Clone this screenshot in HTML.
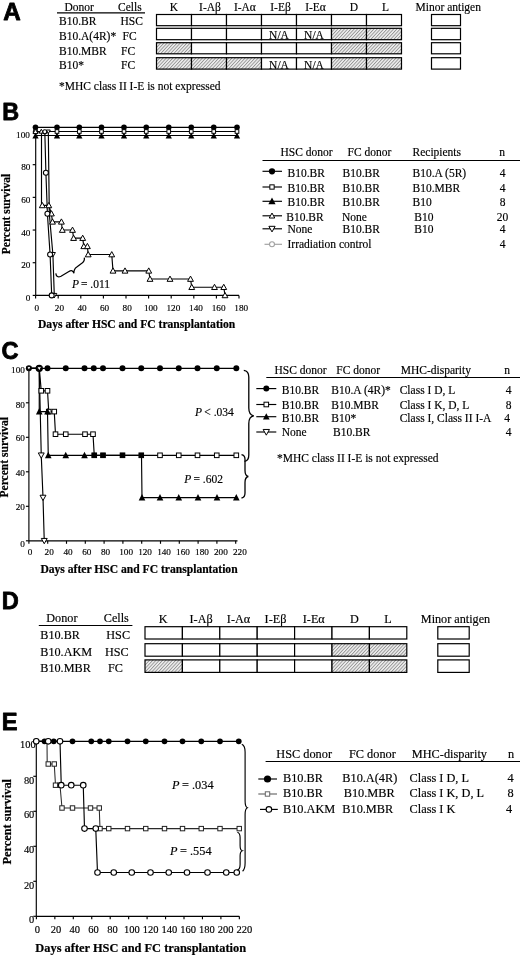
<!DOCTYPE html>
<html lang="en"><head><meta charset="utf-8"><title>Figure</title>
<style>html,body{margin:0;padding:0;background:#fff}svg{display:block}text{font-family:'Liberation Serif', 'Times New Roman', serif;fill:#000;white-space:pre}text{stroke:#000;stroke-width:.16px}text.b{stroke-width:.2px}text.s{font-family:'Liberation Sans', Arial, sans-serif;stroke:#000;stroke-width:.8px;stroke-linejoin:round}</style>
</head><body>
<svg width="520" height="957" viewBox="0 0 520 957">
<defs><pattern id="h" width="2.4" height="2.4" patternUnits="userSpaceOnUse" patternTransform="rotate(43)"><rect width="2.4" height="2.4" fill="#efefef"/><rect width="0.9" height="2.4" fill="#939393"/></pattern></defs>
<rect width="520" height="957" fill="#fff"/>
<text x="3.2" y="20.2" font-size="24.2" font-weight="bold" class="s">A</text>
<text x="64.5" y="10.5" font-size="11.5">Donor</text>
<text x="118" y="10.5" font-size="11.5">Cells</text>
<line x1="57" y1="12.9" x2="145" y2="12.9" stroke="#000" stroke-width="1.3"/>
<text x="59" y="24.6" font-size="11.5">B10.BR</text>
<text x="120.5" y="24.6" font-size="11.5">HSC</text>
<text x="59" y="39.6" font-size="11.5">B10.A(4R)*</text>
<text x="122.5" y="39.6" font-size="11.5">FC</text>
<text x="59" y="54.6" font-size="11.5">B10.MBR</text>
<text x="121" y="54.6" font-size="11.5">FC</text>
<text x="59" y="69.2" font-size="11.5">B10*</text>
<text x="121" y="69.2" font-size="11.5">FC</text>
<text x="174.0" y="10.6" font-size="11.5" text-anchor="middle">K</text>
<text x="210.0" y="10.6" font-size="11.5" text-anchor="middle">I-Aβ</text>
<text x="244.9" y="10.6" font-size="11.5" text-anchor="middle">I-Aα</text>
<text x="280.5" y="10.6" font-size="11.5" text-anchor="middle">I-Eβ</text>
<text x="315.5" y="10.6" font-size="11.5" text-anchor="middle">I-Eα</text>
<text x="354.0" y="10.6" font-size="11.5" text-anchor="middle">D</text>
<text x="385.5" y="10.6" font-size="11.5" text-anchor="middle">L</text>
<text x="415.5" y="10.6" font-size="11.5">Minor antigen</text>
<rect x="156.5" y="14.5" width="35" height="11.2" fill="#fff" stroke="#000" stroke-width="1.2"/>
<rect x="191.5" y="14.5" width="35" height="11.2" fill="#fff" stroke="#000" stroke-width="1.2"/>
<rect x="226.5" y="14.5" width="35" height="11.2" fill="#fff" stroke="#000" stroke-width="1.2"/>
<rect x="261.5" y="14.5" width="35" height="11.2" fill="#fff" stroke="#000" stroke-width="1.2"/>
<rect x="296.5" y="14.5" width="35" height="11.2" fill="#fff" stroke="#000" stroke-width="1.2"/>
<rect x="331.5" y="14.5" width="35" height="11.2" fill="#fff" stroke="#000" stroke-width="1.2"/>
<rect x="366.5" y="14.5" width="35" height="11.2" fill="#fff" stroke="#000" stroke-width="1.2"/>
<rect x="431.5" y="14.5" width="29" height="11.2" fill="#fff" stroke="#000" stroke-width="1.2"/>
<rect x="156.5" y="28.3" width="35" height="11.400000000000002" fill="#fff" stroke="#000" stroke-width="1.2"/>
<rect x="191.5" y="28.3" width="35" height="11.400000000000002" fill="#fff" stroke="#000" stroke-width="1.2"/>
<rect x="226.5" y="28.3" width="35" height="11.400000000000002" fill="#fff" stroke="#000" stroke-width="1.2"/>
<rect x="261.5" y="28.3" width="35" height="11.400000000000002" fill="#fff" stroke="#000" stroke-width="1.2"/>
<text x="279.0" y="39.1" font-size="11.5" text-anchor="middle">N/A</text>
<rect x="296.5" y="28.3" width="35" height="11.400000000000002" fill="#fff" stroke="#000" stroke-width="1.2"/>
<text x="314.0" y="39.1" font-size="11.5" text-anchor="middle">N/A</text>
<rect x="331.5" y="28.3" width="35" height="11.400000000000002" fill="url(#h)" stroke="#000" stroke-width="1.2"/>
<rect x="366.5" y="28.3" width="35" height="11.400000000000002" fill="url(#h)" stroke="#000" stroke-width="1.2"/>
<rect x="431.5" y="28.3" width="29" height="11.400000000000002" fill="#fff" stroke="#000" stroke-width="1.2"/>
<rect x="156.5" y="42.7" width="35" height="11.099999999999994" fill="url(#h)" stroke="#000" stroke-width="1.2"/>
<rect x="191.5" y="42.7" width="35" height="11.099999999999994" fill="#fff" stroke="#000" stroke-width="1.2"/>
<rect x="226.5" y="42.7" width="35" height="11.099999999999994" fill="#fff" stroke="#000" stroke-width="1.2"/>
<rect x="261.5" y="42.7" width="35" height="11.099999999999994" fill="#fff" stroke="#000" stroke-width="1.2"/>
<rect x="296.5" y="42.7" width="35" height="11.099999999999994" fill="#fff" stroke="#000" stroke-width="1.2"/>
<rect x="331.5" y="42.7" width="35" height="11.099999999999994" fill="url(#h)" stroke="#000" stroke-width="1.2"/>
<rect x="366.5" y="42.7" width="35" height="11.099999999999994" fill="url(#h)" stroke="#000" stroke-width="1.2"/>
<rect x="431.5" y="42.7" width="29" height="11.099999999999994" fill="#fff" stroke="#000" stroke-width="1.2"/>
<rect x="156.5" y="57.7" width="35" height="11.399999999999991" fill="url(#h)" stroke="#000" stroke-width="1.2"/>
<rect x="191.5" y="57.7" width="35" height="11.399999999999991" fill="url(#h)" stroke="#000" stroke-width="1.2"/>
<rect x="226.5" y="57.7" width="35" height="11.399999999999991" fill="url(#h)" stroke="#000" stroke-width="1.2"/>
<rect x="261.5" y="57.7" width="35" height="11.399999999999991" fill="#fff" stroke="#000" stroke-width="1.2"/>
<text x="279.0" y="68.5" font-size="11.5" text-anchor="middle">N/A</text>
<rect x="296.5" y="57.7" width="35" height="11.399999999999991" fill="#fff" stroke="#000" stroke-width="1.2"/>
<text x="314.0" y="68.5" font-size="11.5" text-anchor="middle">N/A</text>
<rect x="331.5" y="57.7" width="35" height="11.399999999999991" fill="url(#h)" stroke="#000" stroke-width="1.2"/>
<rect x="366.5" y="57.7" width="35" height="11.399999999999991" fill="url(#h)" stroke="#000" stroke-width="1.2"/>
<rect x="431.5" y="57.7" width="29" height="11.399999999999991" fill="#fff" stroke="#000" stroke-width="1.2"/>
<text x="59" y="89.6" font-size="11.5">*MHC class II I-E is not expressed</text>
<text x="2.2" y="120.3" font-size="23.4" font-weight="bold" class="s">B</text>
<line x1="35.7" y1="126.0" x2="35.7" y2="295.4" stroke="#000" stroke-width="1.15"/>
<line x1="35.7" y1="295.4" x2="239" y2="295.4" stroke="#000" stroke-width="1.15"/>
<line x1="32.7" y1="295.4" x2="35.7" y2="295.4" stroke="#000" stroke-width="1.15"/>
<text x="30.400000000000002" y="300.9" font-size="9.2" text-anchor="end">0</text>
<line x1="32.7" y1="262.71999999999997" x2="35.7" y2="262.71999999999997" stroke="#000" stroke-width="1.15"/>
<text x="30.400000000000002" y="268.21999999999997" font-size="9.2" text-anchor="end">20</text>
<line x1="32.7" y1="230.04" x2="35.7" y2="230.04" stroke="#000" stroke-width="1.15"/>
<text x="30.400000000000002" y="235.54" font-size="9.2" text-anchor="end">40</text>
<line x1="32.7" y1="197.36" x2="35.7" y2="197.36" stroke="#000" stroke-width="1.15"/>
<text x="30.400000000000002" y="202.86" font-size="9.2" text-anchor="end">60</text>
<line x1="32.7" y1="164.68" x2="35.7" y2="164.68" stroke="#000" stroke-width="1.15"/>
<text x="30.400000000000002" y="170.18" font-size="9.2" text-anchor="end">80</text>
<line x1="32.7" y1="132.0" x2="35.7" y2="132.0" stroke="#000" stroke-width="1.15"/>
<text x="29.900000000000002" y="138.1" font-size="9.2" text-anchor="end">100</text>
<line x1="35.6" y1="295.4" x2="35.6" y2="298.4" stroke="#000" stroke-width="1.15"/>
<text x="36.800000000000004" y="310.7" font-size="9.2" text-anchor="middle">0</text>
<line x1="58.2" y1="295.4" x2="58.2" y2="298.4" stroke="#000" stroke-width="1.15"/>
<text x="59.400000000000006" y="310.7" font-size="9.2" text-anchor="middle">20</text>
<line x1="80.80000000000001" y1="295.4" x2="80.80000000000001" y2="298.4" stroke="#000" stroke-width="1.15"/>
<text x="82.00000000000001" y="310.7" font-size="9.2" text-anchor="middle">40</text>
<line x1="103.4" y1="295.4" x2="103.4" y2="298.4" stroke="#000" stroke-width="1.15"/>
<text x="104.60000000000001" y="310.7" font-size="9.2" text-anchor="middle">60</text>
<line x1="126.0" y1="295.4" x2="126.0" y2="298.4" stroke="#000" stroke-width="1.15"/>
<text x="127.2" y="310.7" font-size="9.2" text-anchor="middle">80</text>
<line x1="148.6" y1="295.4" x2="148.6" y2="298.4" stroke="#000" stroke-width="1.15"/>
<text x="150.79999999999998" y="310.7" font-size="9.2" text-anchor="middle">100</text>
<line x1="171.20000000000002" y1="295.4" x2="171.20000000000002" y2="298.4" stroke="#000" stroke-width="1.15"/>
<text x="173.4" y="310.7" font-size="9.2" text-anchor="middle">120</text>
<line x1="193.8" y1="295.4" x2="193.8" y2="298.4" stroke="#000" stroke-width="1.15"/>
<text x="196.0" y="310.7" font-size="9.2" text-anchor="middle">140</text>
<line x1="216.4" y1="295.4" x2="216.4" y2="298.4" stroke="#000" stroke-width="1.15"/>
<text x="218.6" y="310.7" font-size="9.2" text-anchor="middle">160</text>
<line x1="239.0" y1="295.4" x2="239.0" y2="298.4" stroke="#000" stroke-width="1.15"/>
<text x="241.2" y="310.7" font-size="9.2" text-anchor="middle">180</text>
<text x="38" y="327.6" font-size="11.6" font-weight="bold" class="b">Days after HSC and FC transplantation</text>
<text x="0" y="0" font-size="11.6" text-anchor="middle" font-weight="bold" class="b" transform="translate(9.5,214) rotate(-90)">Percent survival</text>
<line x1="35.5" y1="127.4" x2="237" y2="127.4" stroke="#000" stroke-width="1.15"/>
<line x1="35.5" y1="131.5" x2="237" y2="131.5" stroke="#000" stroke-width="1.15"/>
<line x1="35.5" y1="135.5" x2="237" y2="135.5" stroke="#000" stroke-width="1.15"/>
<circle cx="35.50" cy="127.20" r="2.81" fill="#000"/>
<path d="M32.37 138.56L38.63 138.56L35.50 132.61Z" fill="#000"/>
<rect x="33.66" y="129.66" width="3.67" height="3.67" fill="#fff" stroke="#000" stroke-width="1"/>
<circle cx="57.00" cy="127.20" r="2.81" fill="#000"/>
<path d="M53.87 138.56L60.13 138.56L57.00 132.61Z" fill="#000"/>
<rect x="55.16" y="129.66" width="3.67" height="3.67" fill="#fff" stroke="#000" stroke-width="1"/>
<circle cx="79.30" cy="127.20" r="2.81" fill="#000"/>
<path d="M76.17 138.56L82.43 138.56L79.30 132.61Z" fill="#000"/>
<rect x="77.46" y="129.66" width="3.67" height="3.67" fill="#fff" stroke="#000" stroke-width="1"/>
<circle cx="101.50" cy="127.20" r="2.81" fill="#000"/>
<path d="M98.37 138.56L104.63 138.56L101.50 132.61Z" fill="#000"/>
<rect x="99.66" y="129.66" width="3.67" height="3.67" fill="#fff" stroke="#000" stroke-width="1"/>
<circle cx="124.00" cy="127.20" r="2.81" fill="#000"/>
<path d="M120.87 138.56L127.13 138.56L124.00 132.61Z" fill="#000"/>
<rect x="122.16" y="129.66" width="3.67" height="3.67" fill="#fff" stroke="#000" stroke-width="1"/>
<circle cx="146.25" cy="127.20" r="2.81" fill="#000"/>
<path d="M143.12 138.56L149.38 138.56L146.25 132.61Z" fill="#000"/>
<rect x="144.41" y="129.66" width="3.67" height="3.67" fill="#fff" stroke="#000" stroke-width="1"/>
<circle cx="168.75" cy="127.20" r="2.81" fill="#000"/>
<path d="M165.62 138.56L171.88 138.56L168.75 132.61Z" fill="#000"/>
<rect x="166.91" y="129.66" width="3.67" height="3.67" fill="#fff" stroke="#000" stroke-width="1"/>
<circle cx="191.25" cy="127.20" r="2.81" fill="#000"/>
<path d="M188.12 138.56L194.38 138.56L191.25 132.61Z" fill="#000"/>
<rect x="189.41" y="129.66" width="3.67" height="3.67" fill="#fff" stroke="#000" stroke-width="1"/>
<circle cx="213.75" cy="127.20" r="2.81" fill="#000"/>
<path d="M210.62 138.56L216.88 138.56L213.75 132.61Z" fill="#000"/>
<rect x="211.91" y="129.66" width="3.67" height="3.67" fill="#fff" stroke="#000" stroke-width="1"/>
<circle cx="237.00" cy="127.20" r="2.81" fill="#000"/>
<path d="M233.87 138.56L240.13 138.56L237.00 132.61Z" fill="#000"/>
<rect x="235.16" y="129.66" width="3.67" height="3.67" fill="#fff" stroke="#000" stroke-width="1"/>
<polyline points="35.50,131.60 41.50,131.60 41.50,205.40 48.80,205.40 51.40,213.60 52.50,221.80 61.40,221.80 62.30,230.00 72.50,230.00 73.60,238.10 82.70,238.10 83.80,246.30 87.40,246.30 88.20,254.50 111.75,254.50 113.00,270.80 125.00,270.80 148.75,270.80 150.00,279.00 170.00,279.00 190.50,279.00 191.75,287.20 214.50,287.20 223.75,287.20 225.00,295.40" fill="none" stroke="#000" stroke-width="1.15"/>
<polyline points="35.50,131.60 44.80,131.60 45.90,172.80 47.40,213.70 50.10,254.50 51.70,295.40" fill="none" stroke="#000" stroke-width="1.15"/>
<polyline points="35.50,131.60 48.30,131.60 49.30,213.70 52.90,254.50 54.30,295.40" fill="none" stroke="#000" stroke-width="1.15"/>
<path d="M46.31 130.01L50.29 130.01L48.30 133.59Z" fill="#fff" stroke="#000" stroke-width="1"/>
<path d="M46.82 211.71L51.78 211.71L49.30 216.18Z" fill="#fff" stroke="#000" stroke-width="1"/>
<path d="M50.42 252.51L55.38 252.51L52.90 256.98Z" fill="#fff" stroke="#000" stroke-width="1"/>
<path d="M51.82 293.41L56.78 293.41L54.30 297.88Z" fill="#fff" stroke="#000" stroke-width="1"/>
<path d="M33.02 133.58L37.98 133.58L35.50 129.12Z" fill="#fff" stroke="#000" stroke-width="1"/>
<path d="M39.11 133.15L43.49 133.15L41.30 129.21Z" fill="#fff" stroke="#000" stroke-width="1"/>
<path d="M39.38 207.73L45.22 207.73L42.30 202.48Z" fill="#fff" stroke="#000" stroke-width="1"/>
<path d="M45.88 207.73L51.72 207.73L48.80 202.48Z" fill="#fff" stroke="#000" stroke-width="1"/>
<path d="M48.48 215.93L54.32 215.93L51.40 210.68Z" fill="#fff" stroke="#000" stroke-width="1"/>
<path d="M49.58 224.13L55.42 224.13L52.50 218.88Z" fill="#fff" stroke="#000" stroke-width="1"/>
<path d="M58.48 224.13L64.32 224.13L61.40 218.88Z" fill="#fff" stroke="#000" stroke-width="1"/>
<path d="M59.38 232.33L65.22 232.33L62.30 227.08Z" fill="#fff" stroke="#000" stroke-width="1"/>
<path d="M69.58 232.33L75.42 232.33L72.50 227.08Z" fill="#fff" stroke="#000" stroke-width="1"/>
<path d="M70.68 240.43L76.52 240.43L73.60 235.18Z" fill="#fff" stroke="#000" stroke-width="1"/>
<path d="M79.78 240.43L85.62 240.43L82.70 235.18Z" fill="#fff" stroke="#000" stroke-width="1"/>
<path d="M80.88 248.63L86.72 248.63L83.80 243.38Z" fill="#fff" stroke="#000" stroke-width="1"/>
<path d="M84.48 248.63L90.32 248.63L87.40 243.38Z" fill="#fff" stroke="#000" stroke-width="1"/>
<path d="M85.28 256.83L91.12 256.83L88.20 251.58Z" fill="#fff" stroke="#000" stroke-width="1"/>
<path d="M108.83 256.83L114.67 256.83L111.75 251.58Z" fill="#fff" stroke="#000" stroke-width="1"/>
<path d="M110.08 273.13L115.92 273.13L113.00 267.88Z" fill="#fff" stroke="#000" stroke-width="1"/>
<path d="M122.08 273.13L127.92 273.13L125.00 267.88Z" fill="#fff" stroke="#000" stroke-width="1"/>
<path d="M145.83 273.13L151.67 273.13L148.75 267.88Z" fill="#fff" stroke="#000" stroke-width="1"/>
<path d="M147.08 281.33L152.92 281.33L150.00 276.08Z" fill="#fff" stroke="#000" stroke-width="1"/>
<path d="M167.08 281.33L172.92 281.33L170.00 276.08Z" fill="#fff" stroke="#000" stroke-width="1"/>
<path d="M187.58 281.33L193.42 281.33L190.50 276.08Z" fill="#fff" stroke="#000" stroke-width="1"/>
<path d="M188.83 289.53L194.67 289.53L191.75 284.28Z" fill="#fff" stroke="#000" stroke-width="1"/>
<path d="M211.58 289.53L217.42 289.53L214.50 284.28Z" fill="#fff" stroke="#000" stroke-width="1"/>
<path d="M220.83 289.53L226.67 289.53L223.75 284.28Z" fill="#fff" stroke="#000" stroke-width="1"/>
<path d="M222.08 297.73L227.92 297.73L225.00 292.48Z" fill="#fff" stroke="#000" stroke-width="1"/>
<circle cx="44.80" cy="131.80" r="1.99" fill="#fff" stroke="#000" stroke-width="1.1"/>
<circle cx="45.90" cy="172.80" r="2.48" fill="#fff" stroke="#000" stroke-width="1.1"/>
<circle cx="47.40" cy="213.70" r="2.48" fill="#fff" stroke="#000" stroke-width="1.1"/>
<circle cx="50.10" cy="254.50" r="2.48" fill="#fff" stroke="#000" stroke-width="1.1"/>
<circle cx="51.70" cy="295.40" r="2.48" fill="#fff" stroke="#000" stroke-width="1.1"/>
<path d="M55.8 273.4 C56.2 276.4 58 277.7 61 276.2 L68.5 271.7 C71.5 269.9 73.3 270.5 73.9 273.4 C73.7 270.3 74.3 268.6 76.8 266.9 L81.8 263.3 C84 261.6 84.8 260 84.3 257.6" fill="none" stroke="#000" stroke-width="1.25"/>
<text x="72" y="287.6" font-size="11.5"><tspan font-style="italic">P</tspan><tspan x="78.12"> </tspan>= .011</text>
<text x="280.5" y="155.6" font-size="11.5">HSC donor</text>
<text x="347.5" y="155.6" font-size="11.5">FC donor</text>
<text x="412.5" y="155.6" font-size="11.5">Recipients</text>
<text x="499.3" y="155.6" font-size="11.5">n</text>
<line x1="262.5" y1="160.5" x2="520" y2="160.5" stroke="#000" stroke-width="1.15"/>
<line x1="262.5" y1="171.3" x2="282" y2="171.3" stroke="#000" stroke-width="1.15"/>
<circle cx="272.00" cy="171.30" r="3.14" fill="#000"/>
<text x="287.5" y="176.8" font-size="11.5">B10.BR</text>
<text x="342.5" y="176.8" font-size="11.5">B10.BR</text>
<text x="412.5" y="176.8" font-size="11.5">B10.A (5R)</text>
<text x="502.6" y="176.8" font-size="11.5" text-anchor="middle">4</text>
<line x1="262.5" y1="187" x2="282" y2="187" stroke="#000" stroke-width="1.15"/>
<rect x="269.84" y="184.84" width="4.32" height="4.32" fill="#fff" stroke="#000" stroke-width="1"/>
<text x="287.5" y="191.8" font-size="11.5">B10.BR</text>
<text x="342.5" y="191.8" font-size="11.5">B10.BR</text>
<text x="412.5" y="191.8" font-size="11.5">B10.MBR</text>
<text x="502.6" y="191.8" font-size="11.5" text-anchor="middle">4</text>
<line x1="262.5" y1="201.3" x2="282" y2="201.3" stroke="#000" stroke-width="1.15"/>
<path d="M268.40 204.36L275.60 204.36L272.00 197.52Z" fill="#000"/>
<text x="287.5" y="206.3" font-size="11.5">B10.BR</text>
<text x="342.5" y="206.3" font-size="11.5">B10.BR</text>
<text x="412.5" y="206.3" font-size="11.5">B10</text>
<text x="502.6" y="206.3" font-size="11.5" text-anchor="middle">8</text>
<line x1="262.5" y1="215.8" x2="282" y2="215.8" stroke="#000" stroke-width="1.15"/>
<path d="M269.23 218.02L274.77 218.02L272.00 213.03Z" fill="#fff" stroke="#000" stroke-width="1"/>
<text x="286.3" y="220.5" font-size="11.5">B10.BR</text>
<text x="342" y="220.5" font-size="11.5">None</text>
<text x="414.3" y="220.5" font-size="11.5">B10</text>
<text x="502.6" y="220.5" font-size="11.5" text-anchor="middle">20</text>
<line x1="262.5" y1="228.8" x2="282" y2="228.8" stroke="#000" stroke-width="1.15"/>
<path d="M268.89 226.32L275.11 226.32L272.00 231.91Z" fill="#fff" stroke="#000" stroke-width="1"/>
<text x="287.5" y="233" font-size="11.5">None</text>
<text x="342.5" y="233" font-size="11.5">B10.BR</text>
<text x="414.3" y="233" font-size="11.5">B10</text>
<text x="502.6" y="233" font-size="11.5" text-anchor="middle">4</text>
<line x1="264.5" y1="244.3" x2="282" y2="244.3" stroke="#a0a0a0" stroke-width="1.15"/>
<circle cx="272.00" cy="244.30" r="2.48" fill="#fff" stroke="#a0a0a0" stroke-width="1.1"/>
<text x="287.5" y="247.5" font-size="11.5">Irradiation control</text>
<text x="342.5" y="247.5" font-size="11.5"></text>
<text x="412.5" y="247.5" font-size="11.5"></text>
<text x="502.6" y="247.5" font-size="11.5" text-anchor="middle">4</text>
<text x="1.4" y="358.9" font-size="23.6" font-weight="bold" class="s">C</text>
<line x1="28.9" y1="368.3" x2="28.9" y2="540.8" stroke="#000" stroke-width="1.15"/>
<line x1="28.9" y1="540.8" x2="237.5" y2="540.8" stroke="#000" stroke-width="1.15"/>
<line x1="25.9" y1="540.8" x2="28.9" y2="540.8" stroke="#000" stroke-width="1.15"/>
<text x="24.9" y="546.5" font-size="9.2" text-anchor="end">0</text>
<line x1="25.9" y1="506.29999999999995" x2="28.9" y2="506.29999999999995" stroke="#000" stroke-width="1.15"/>
<text x="24.9" y="510.19999999999993" font-size="9.2" text-anchor="end">20</text>
<line x1="25.9" y1="471.79999999999995" x2="28.9" y2="471.79999999999995" stroke="#000" stroke-width="1.15"/>
<text x="24.9" y="476.4" font-size="9.2" text-anchor="end">40</text>
<line x1="25.9" y1="437.3" x2="28.9" y2="437.3" stroke="#000" stroke-width="1.15"/>
<text x="24.9" y="441.2" font-size="9.2" text-anchor="end">60</text>
<line x1="25.9" y1="402.79999999999995" x2="28.9" y2="402.79999999999995" stroke="#000" stroke-width="1.15"/>
<text x="24.9" y="407.9" font-size="9.2" text-anchor="end">80</text>
<line x1="25.9" y1="368.30000000000007" x2="28.9" y2="368.30000000000007" stroke="#000" stroke-width="1.15"/>
<text x="24.9" y="373.4000000000001" font-size="9.2" text-anchor="end">100</text>
<line x1="28.9" y1="540.8" x2="28.9" y2="543.8" stroke="#000" stroke-width="1.15"/>
<text x="30.0" y="554.6" font-size="9.2" text-anchor="middle">0</text>
<line x1="47.699999999999996" y1="540.8" x2="47.699999999999996" y2="543.8" stroke="#000" stroke-width="1.15"/>
<text x="49.199999999999996" y="554.6" font-size="9.2" text-anchor="middle">20</text>
<line x1="66.5" y1="540.8" x2="66.5" y2="543.8" stroke="#000" stroke-width="1.15"/>
<text x="68.0" y="554.6" font-size="9.2" text-anchor="middle">40</text>
<line x1="85.3" y1="540.8" x2="85.3" y2="543.8" stroke="#000" stroke-width="1.15"/>
<text x="86.8" y="554.6" font-size="9.2" text-anchor="middle">60</text>
<line x1="104.1" y1="540.8" x2="104.1" y2="543.8" stroke="#000" stroke-width="1.15"/>
<text x="105.6" y="554.6" font-size="9.2" text-anchor="middle">80</text>
<line x1="122.9" y1="540.8" x2="122.9" y2="543.8" stroke="#000" stroke-width="1.15"/>
<text x="126.10000000000001" y="554.6" font-size="9.2" text-anchor="middle">100</text>
<line x1="141.7" y1="540.8" x2="141.7" y2="543.8" stroke="#000" stroke-width="1.15"/>
<text x="145.06" y="554.6" font-size="9.2" text-anchor="middle">120</text>
<line x1="160.5" y1="540.8" x2="160.5" y2="543.8" stroke="#000" stroke-width="1.15"/>
<text x="164.02" y="554.6" font-size="9.2" text-anchor="middle">140</text>
<line x1="179.29999999999998" y1="540.8" x2="179.29999999999998" y2="543.8" stroke="#000" stroke-width="1.15"/>
<text x="182.98" y="554.6" font-size="9.2" text-anchor="middle">160</text>
<line x1="198.1" y1="540.8" x2="198.1" y2="543.8" stroke="#000" stroke-width="1.15"/>
<text x="201.94" y="554.6" font-size="9.2" text-anchor="middle">180</text>
<line x1="216.9" y1="540.8" x2="216.9" y2="543.8" stroke="#000" stroke-width="1.15"/>
<text x="220.9" y="554.6" font-size="9.2" text-anchor="middle">200</text>
<line x1="235.7" y1="540.8" x2="235.7" y2="543.8" stroke="#000" stroke-width="1.15"/>
<text x="239.85999999999999" y="554.6" font-size="9.2" text-anchor="middle">220</text>
<text x="40.4" y="572.8" font-size="11.6" font-weight="bold" class="b">Days after HSC and FC transplantation</text>
<text x="0" y="0" font-size="11.6" text-anchor="middle" font-weight="bold" class="b" transform="translate(8.3,457.3) rotate(-90)">Percent survival</text>
<line x1="28.9" y1="368.3" x2="236.3" y2="368.3" stroke="#000" stroke-width="1.15"/>
<polyline points="28.90,368.30 39.30,368.30 41.25,390.80 47.50,390.80 48.75,411.60 54.25,411.60 55.50,434.20 65.75,434.20 85.00,434.20 93.00,434.20 94.25,455.30 103.00,455.30 122.50,455.30 141.25,455.30 160.00,455.30 178.75,455.30 197.50,455.30 216.75,455.30 236.30,455.30" fill="none" stroke="#000" stroke-width="1.15"/>
<polyline points="28.90,368.30 39.25,368.30 39.25,411.60 47.50,411.60 48.25,455.30 65.75,455.30 84.50,455.30 94.25,455.30 103.00,455.30 122.50,455.30 141.50,455.30 142.00,497.60 160.00,497.60 178.75,497.60 198.00,497.60 217.00,497.60 236.30,497.60" fill="none" stroke="#000" stroke-width="1.15"/>
<polyline points="28.90,368.30 39.25,368.30 41.25,455.30 43.00,497.60 44.25,540.80" fill="none" stroke="#000" stroke-width="1.15"/>
<circle cx="28.90" cy="368.30" r="2.99" fill="#000"/>
<circle cx="38.75" cy="368.30" r="2.99" fill="#000"/>
<circle cx="47.50" cy="368.30" r="2.99" fill="#000"/>
<circle cx="65.75" cy="368.30" r="2.99" fill="#000"/>
<circle cx="84.50" cy="368.30" r="2.99" fill="#000"/>
<circle cx="93.75" cy="368.30" r="2.99" fill="#000"/>
<circle cx="103.00" cy="368.30" r="2.99" fill="#000"/>
<circle cx="122.50" cy="368.30" r="2.99" fill="#000"/>
<circle cx="141.25" cy="368.30" r="2.99" fill="#000"/>
<circle cx="160.00" cy="368.30" r="2.99" fill="#000"/>
<circle cx="178.75" cy="368.30" r="2.99" fill="#000"/>
<circle cx="197.50" cy="368.30" r="2.99" fill="#000"/>
<circle cx="216.75" cy="368.30" r="2.99" fill="#000"/>
<circle cx="236.30" cy="368.30" r="2.99" fill="#000"/>
<rect x="38.95" y="388.50" width="4.60" height="4.60" fill="#fff" stroke="#000" stroke-width="1"/>
<rect x="45.20" y="388.50" width="4.60" height="4.60" fill="#fff" stroke="#000" stroke-width="1"/>
<rect x="46.45" y="409.30" width="4.60" height="4.60" fill="#fff" stroke="#000" stroke-width="1"/>
<rect x="51.95" y="409.30" width="4.60" height="4.60" fill="#fff" stroke="#000" stroke-width="1"/>
<rect x="53.20" y="431.90" width="4.60" height="4.60" fill="#fff" stroke="#000" stroke-width="1"/>
<rect x="63.45" y="431.90" width="4.60" height="4.60" fill="#fff" stroke="#000" stroke-width="1"/>
<rect x="82.70" y="431.90" width="4.60" height="4.60" fill="#fff" stroke="#000" stroke-width="1"/>
<rect x="90.70" y="431.90" width="4.60" height="4.60" fill="#fff" stroke="#000" stroke-width="1"/>
<rect x="91.95" y="453.00" width="4.60" height="4.60" fill="#fff" stroke="#000" stroke-width="1"/>
<rect x="100.70" y="453.00" width="4.60" height="4.60" fill="#fff" stroke="#000" stroke-width="1"/>
<rect x="120.20" y="453.00" width="4.60" height="4.60" fill="#fff" stroke="#000" stroke-width="1"/>
<rect x="138.95" y="453.00" width="4.60" height="4.60" fill="#fff" stroke="#000" stroke-width="1"/>
<rect x="157.70" y="453.00" width="4.60" height="4.60" fill="#fff" stroke="#000" stroke-width="1"/>
<rect x="176.45" y="453.00" width="4.60" height="4.60" fill="#fff" stroke="#000" stroke-width="1"/>
<rect x="195.20" y="453.00" width="4.60" height="4.60" fill="#fff" stroke="#000" stroke-width="1"/>
<rect x="214.45" y="453.00" width="4.60" height="4.60" fill="#fff" stroke="#000" stroke-width="1"/>
<rect x="234.00" y="453.00" width="4.60" height="4.60" fill="#fff" stroke="#000" stroke-width="1"/>
<path d="M35.91 414.43L42.59 414.43L39.25 408.10Z" fill="#000"/>
<path d="M44.16 414.43L50.84 414.43L47.50 408.10Z" fill="#000"/>
<path d="M44.91 458.13L51.59 458.13L48.25 451.80Z" fill="#000"/>
<path d="M62.41 458.13L69.08 458.13L65.75 451.80Z" fill="#000"/>
<path d="M81.17 458.13L87.83 458.13L84.50 451.80Z" fill="#000"/>
<rect x="91.78" y="452.83" width="4.94" height="4.94" fill="#000"/>
<rect x="100.53" y="452.83" width="4.94" height="4.94" fill="#000"/>
<rect x="120.03" y="452.83" width="4.94" height="4.94" fill="#000"/>
<rect x="139.03" y="452.83" width="4.94" height="4.94" fill="#000"/>
<path d="M138.66 500.43L145.34 500.43L142.00 494.10Z" fill="#000"/>
<path d="M156.66 500.43L163.34 500.43L160.00 494.10Z" fill="#000"/>
<path d="M175.41 500.43L182.09 500.43L178.75 494.10Z" fill="#000"/>
<path d="M194.66 500.43L201.34 500.43L198.00 494.10Z" fill="#000"/>
<path d="M213.66 500.43L220.34 500.43L217.00 494.10Z" fill="#000"/>
<path d="M232.97 500.43L239.64 500.43L236.30 494.10Z" fill="#000"/>
<circle cx="39.25" cy="368.30" r="3.65" fill="#000"/>
<path d="M26.78 366.61L31.02 366.61L28.90 370.42Z" fill="#fff" stroke="#000" stroke-width="1"/>
<path d="M36.87 366.70L41.63 366.70L39.25 370.98Z" fill="#fff" stroke="#000" stroke-width="1"/>
<path d="M38.29 452.93L44.21 452.93L41.25 458.26Z" fill="#fff" stroke="#000" stroke-width="1"/>
<path d="M40.04 495.23L45.96 495.23L43.00 500.56Z" fill="#fff" stroke="#000" stroke-width="1"/>
<path d="M41.29 538.43L47.21 538.43L44.25 543.76Z" fill="#fff" stroke="#000" stroke-width="1"/>
<path d="M243.8 370.3 C247.5 370.8 248.8 372.5 248.8 377 L248.8 408 C248.8 413 250.5 415.3 253.8 415.8 C250.5 416.3 248.8 418.5 248.8 423.5 L248.8 455 C248.8 459.5 247.5 461 244.5 461.4" fill="none" stroke="#000" stroke-width="1.3"/>
<path d="M241.5 454.6 C244 455 245 456.3 245 459.5 L245 470.5 C245 474.3 246 476 248.3 476.5 C246 477 245 478.8 245 482.5 L245 493 C245 496.5 244 497.6 241.5 498" fill="none" stroke="#000" stroke-width="1.3"/>
<text x="195" y="416.3" font-size="11.5"><tspan font-style="italic">P</tspan><tspan x="201.43"> </tspan>&lt; .034</text>
<text x="184.3" y="483" font-size="11.5"><tspan font-style="italic">P</tspan><tspan x="190.62"> </tspan>= .602</text>
<text x="274.5" y="374.3" font-size="11.5">HSC donor</text>
<text x="336.3" y="374.3" font-size="11.5">FC donor</text>
<text x="400.7" y="374.3" font-size="11.5">MHC-disparity</text>
<text x="504.3" y="374.3" font-size="11.5">n</text>
<line x1="266.3" y1="377.5" x2="520" y2="377.5" stroke="#000" stroke-width="1.15"/>
<line x1="256.3" y1="388.6" x2="276.3" y2="388.6" stroke="#000" stroke-width="1.15"/>
<circle cx="266.30" cy="388.60" r="2.99" fill="#000"/>
<text x="281.8" y="393.8" font-size="11.5">B10.BR</text>
<text x="331.3" y="393.8" font-size="11.5">B10.A (4R)*</text>
<text x="399.7" y="393.8" font-size="11.5">Class I D, L</text>
<text x="508.5" y="393.8" font-size="11.5" text-anchor="middle">4</text>
<line x1="256.3" y1="404.5" x2="276.3" y2="404.5" stroke="#000" stroke-width="1.15"/>
<rect x="264.00" y="402.20" width="4.60" height="4.60" fill="#fff" stroke="#000" stroke-width="1"/>
<text x="281.8" y="409.3" font-size="11.5">B10.BR</text>
<text x="331.3" y="409.3" font-size="11.5">B10.MBR</text>
<text x="399.7" y="409.3" font-size="11.5">Class I K, D, L</text>
<text x="508.5" y="409.3" font-size="11.5" text-anchor="middle">8</text>
<line x1="256.3" y1="416.7" x2="276.3" y2="416.7" stroke="#000" stroke-width="1.15"/>
<path d="M262.97 419.53L269.63 419.53L266.30 413.20Z" fill="#000"/>
<text x="281.8" y="421.8" font-size="11.5">B10.BR</text>
<text x="331.3" y="421.8" font-size="11.5">B10*</text>
<text x="399.7" y="421.8" font-size="11.5">Class I, Class II I-A</text>
<text x="507" y="421.8" font-size="11.5" text-anchor="middle">4</text>
<line x1="256.3" y1="432" x2="276.3" y2="432" stroke="#000" stroke-width="1.15"/>
<path d="M263.13 429.46L269.47 429.46L266.30 435.17Z" fill="#fff" stroke="#000" stroke-width="1"/>
<text x="281.8" y="436.3" font-size="11.5">None</text>
<text x="333" y="436.3" font-size="11.5">B10.BR</text>
<text x="399.7" y="436.3" font-size="11.5"></text>
<text x="508.5" y="436.3" font-size="11.5" text-anchor="middle">4</text>
<text x="277" y="461.9" font-size="11.5">*MHC class II I-E is not expressed</text>
<text x="1.7" y="608.8" font-size="23.6" font-weight="bold" class="s">D</text>
<text x="46.3" y="622.2" font-size="12.2">Donor</text>
<text x="103.8" y="622.2" font-size="12.2">Cells</text>
<line x1="38.8" y1="625.5" x2="132.4" y2="625.5" stroke="#000" stroke-width="1.15"/>
<text x="40.3" y="638.8" font-size="12.2">B10.BR</text>
<text x="106.3" y="638.8" font-size="12.2">HSC</text>
<text x="40.3" y="656.3" font-size="12.2">B10.AKM</text>
<text x="105" y="656.3" font-size="12.2">HSC</text>
<text x="40.3" y="671.8" font-size="12.2">B10.MBR</text>
<text x="108" y="671.8" font-size="12.2">FC</text>
<text x="163.1" y="622.6" font-size="12.2" text-anchor="middle">K</text>
<text x="201.1" y="622.6" font-size="12.2" text-anchor="middle">I-Aβ</text>
<text x="238.5" y="622.6" font-size="12.2" text-anchor="middle">I-Aα</text>
<text x="275.5" y="622.6" font-size="12.2" text-anchor="middle">I-Eβ</text>
<text x="313.8" y="622.6" font-size="12.2" text-anchor="middle">I-Eα</text>
<text x="354.4" y="622.6" font-size="12.2" text-anchor="middle">D</text>
<text x="388.09999999999997" y="622.6" font-size="12.2" text-anchor="middle">L</text>
<text x="420.8" y="622.6" font-size="12.2">Minor antigen</text>
<rect x="145.0" y="626.7" width="37.4" height="12.299999999999955" fill="#fff" stroke="#000" stroke-width="1.2"/>
<rect x="182.4" y="626.7" width="37.4" height="12.299999999999955" fill="#fff" stroke="#000" stroke-width="1.2"/>
<rect x="219.8" y="626.7" width="37.4" height="12.299999999999955" fill="#fff" stroke="#000" stroke-width="1.2"/>
<rect x="257.2" y="626.7" width="37.4" height="12.299999999999955" fill="#fff" stroke="#000" stroke-width="1.2"/>
<rect x="294.6" y="626.7" width="37.4" height="12.299999999999955" fill="#fff" stroke="#000" stroke-width="1.2"/>
<rect x="332.0" y="626.7" width="37.4" height="12.299999999999955" fill="#fff" stroke="#000" stroke-width="1.2"/>
<rect x="369.4" y="626.7" width="37.4" height="12.299999999999955" fill="#fff" stroke="#000" stroke-width="1.2"/>
<rect x="437.8" y="626.7" width="31.4" height="12.299999999999955" fill="#fff" stroke="#000" stroke-width="1.2"/>
<rect x="145.0" y="643.7" width="37.4" height="12.5" fill="#fff" stroke="#000" stroke-width="1.2"/>
<rect x="182.4" y="643.7" width="37.4" height="12.5" fill="#fff" stroke="#000" stroke-width="1.2"/>
<rect x="219.8" y="643.7" width="37.4" height="12.5" fill="#fff" stroke="#000" stroke-width="1.2"/>
<rect x="257.2" y="643.7" width="37.4" height="12.5" fill="#fff" stroke="#000" stroke-width="1.2"/>
<rect x="294.6" y="643.7" width="37.4" height="12.5" fill="#fff" stroke="#000" stroke-width="1.2"/>
<rect x="332.0" y="643.7" width="37.4" height="12.5" fill="url(#h)" stroke="#000" stroke-width="1.2"/>
<rect x="369.4" y="643.7" width="37.4" height="12.5" fill="url(#h)" stroke="#000" stroke-width="1.2"/>
<rect x="437.8" y="643.7" width="31.4" height="12.5" fill="#fff" stroke="#000" stroke-width="1.2"/>
<rect x="145.0" y="659.9" width="37.4" height="12.5" fill="url(#h)" stroke="#000" stroke-width="1.2"/>
<rect x="182.4" y="659.9" width="37.4" height="12.5" fill="#fff" stroke="#000" stroke-width="1.2"/>
<rect x="219.8" y="659.9" width="37.4" height="12.5" fill="#fff" stroke="#000" stroke-width="1.2"/>
<rect x="257.2" y="659.9" width="37.4" height="12.5" fill="#fff" stroke="#000" stroke-width="1.2"/>
<rect x="294.6" y="659.9" width="37.4" height="12.5" fill="#fff" stroke="#000" stroke-width="1.2"/>
<rect x="332.0" y="659.9" width="37.4" height="12.5" fill="url(#h)" stroke="#000" stroke-width="1.2"/>
<rect x="369.4" y="659.9" width="37.4" height="12.5" fill="url(#h)" stroke="#000" stroke-width="1.2"/>
<rect x="437.8" y="659.9" width="31.4" height="12.5" fill="#fff" stroke="#000" stroke-width="1.2"/>
<text x="1.7" y="730.2" font-size="23.7" font-weight="bold" class="s">E</text>
<line x1="36.3" y1="741.3" x2="36.3" y2="916.3" stroke="#000" stroke-width="1.15"/>
<line x1="36.3" y1="916.3" x2="239.3" y2="916.3" stroke="#000" stroke-width="1.15"/>
<line x1="33.3" y1="916.3" x2="36.3" y2="916.3" stroke="#000" stroke-width="1.15"/>
<text x="34.3" y="922.5999999999999" font-size="10.4" text-anchor="end">0</text>
<line x1="33.3" y1="881.3" x2="36.3" y2="881.3" stroke="#000" stroke-width="1.15"/>
<text x="34.3" y="888.5" font-size="10.4" text-anchor="end">20</text>
<line x1="33.3" y1="846.3" x2="36.3" y2="846.3" stroke="#000" stroke-width="1.15"/>
<text x="34.3" y="852.9" font-size="10.4" text-anchor="end">40</text>
<line x1="33.3" y1="811.3" x2="36.3" y2="811.3" stroke="#000" stroke-width="1.15"/>
<text x="34.3" y="818.0999999999999" font-size="10.4" text-anchor="end">60</text>
<line x1="33.3" y1="776.3" x2="36.3" y2="776.3" stroke="#000" stroke-width="1.15"/>
<text x="34.3" y="783.5" font-size="10.4" text-anchor="end">80</text>
<line x1="33.3" y1="741.3" x2="36.3" y2="741.3" stroke="#000" stroke-width="1.15"/>
<text x="35.699999999999996" y="747.5999999999999" font-size="10.4" text-anchor="end">100</text>
<line x1="36.4" y1="916.3" x2="36.4" y2="919.3" stroke="#000" stroke-width="1.15"/>
<text x="37.3" y="932.6" font-size="10.5" text-anchor="middle">0</text>
<line x1="54.849999999999994" y1="916.3" x2="54.849999999999994" y2="919.3" stroke="#000" stroke-width="1.15"/>
<text x="56.06999999999999" y="932.6" font-size="10.5" text-anchor="middle">20</text>
<line x1="73.3" y1="916.3" x2="73.3" y2="919.3" stroke="#000" stroke-width="1.15"/>
<text x="74.84" y="932.6" font-size="10.5" text-anchor="middle">40</text>
<line x1="91.75" y1="916.3" x2="91.75" y2="919.3" stroke="#000" stroke-width="1.15"/>
<text x="93.61" y="932.6" font-size="10.5" text-anchor="middle">60</text>
<line x1="110.19999999999999" y1="916.3" x2="110.19999999999999" y2="919.3" stroke="#000" stroke-width="1.15"/>
<text x="112.38" y="932.6" font-size="10.5" text-anchor="middle">80</text>
<line x1="128.65" y1="916.3" x2="128.65" y2="919.3" stroke="#000" stroke-width="1.15"/>
<text x="131.84999999999997" y="932.6" font-size="10.5" text-anchor="middle">100</text>
<line x1="147.1" y1="916.3" x2="147.1" y2="919.3" stroke="#000" stroke-width="1.15"/>
<text x="150.62" y="932.6" font-size="10.5" text-anchor="middle">120</text>
<line x1="165.55" y1="916.3" x2="165.55" y2="919.3" stroke="#000" stroke-width="1.15"/>
<text x="169.39" y="932.6" font-size="10.5" text-anchor="middle">140</text>
<line x1="184.0" y1="916.3" x2="184.0" y2="919.3" stroke="#000" stroke-width="1.15"/>
<text x="188.15999999999997" y="932.6" font-size="10.5" text-anchor="middle">160</text>
<line x1="202.45" y1="916.3" x2="202.45" y2="919.3" stroke="#000" stroke-width="1.15"/>
<text x="206.93" y="932.6" font-size="10.5" text-anchor="middle">180</text>
<line x1="220.9" y1="916.3" x2="220.9" y2="919.3" stroke="#000" stroke-width="1.15"/>
<text x="225.7" y="932.6" font-size="10.5" text-anchor="middle">200</text>
<line x1="239.35" y1="916.3" x2="239.35" y2="919.3" stroke="#000" stroke-width="1.15"/>
<text x="244.46999999999997" y="932.6" font-size="10.5" text-anchor="middle">220</text>
<text x="35.3" y="952" font-size="12.4" font-weight="bold" class="b">Days after HSC and FC transplantation</text>
<text x="0" y="0" font-size="12.3" text-anchor="middle" font-weight="bold" class="b" transform="translate(11.2,821.7) rotate(-90)">Percent survival</text>
<line x1="36.25" y1="741.3" x2="238.75" y2="741.3" stroke="#000" stroke-width="1.15"/>
<circle cx="36.25" cy="741.30" r="2.86" fill="#000"/>
<circle cx="44.50" cy="741.30" r="2.86" fill="#000"/>
<circle cx="53.75" cy="741.30" r="2.86" fill="#000"/>
<circle cx="72.50" cy="741.30" r="2.86" fill="#000"/>
<circle cx="91.25" cy="741.30" r="2.86" fill="#000"/>
<circle cx="100.00" cy="741.30" r="2.86" fill="#000"/>
<circle cx="108.75" cy="741.30" r="2.86" fill="#000"/>
<circle cx="127.50" cy="741.30" r="2.86" fill="#000"/>
<circle cx="145.75" cy="741.30" r="2.86" fill="#000"/>
<circle cx="164.50" cy="741.30" r="2.86" fill="#000"/>
<circle cx="182.50" cy="741.30" r="2.86" fill="#000"/>
<circle cx="201.25" cy="741.30" r="2.86" fill="#000"/>
<circle cx="220.00" cy="741.30" r="2.86" fill="#000"/>
<circle cx="238.75" cy="741.30" r="2.86" fill="#000"/>
<polyline points="36.25,741.30 47.00,741.30 47.20,764.00 48.25,764.00 54.25,764.00 55.50,785.20 60.00,785.20 62.00,808.00 72.50,808.00 90.50,808.00 99.25,808.00 100.00,828.60 108.75,828.60 127.50,828.60 145.75,828.60 164.50,828.60 182.50,828.60 201.25,828.60 220.00,828.60 239.25,828.60" fill="none" stroke="#2a2a2a" stroke-width="1.05"/>
<polyline points="36.25,741.30 48.25,741.30 60.00,741.30 61.25,785.20 71.25,785.20 83.25,785.20 84.50,828.60 95.75,828.60 97.50,872.50 113.75,872.50 131.75,872.50 150.50,872.50 168.75,872.50 187.00,872.50 207.50,872.50 226.25,872.50 236.75,872.50" fill="none" stroke="#000" stroke-width="1.15"/>
<rect x="46.05" y="761.80" width="4.40" height="4.40" fill="#fff" stroke="#222" stroke-width="1"/>
<rect x="52.05" y="761.80" width="4.40" height="4.40" fill="#fff" stroke="#222" stroke-width="1"/>
<rect x="53.30" y="783.00" width="4.40" height="4.40" fill="#fff" stroke="#222" stroke-width="1"/>
<rect x="57.80" y="783.00" width="4.40" height="4.40" fill="#fff" stroke="#222" stroke-width="1"/>
<rect x="59.80" y="805.80" width="4.40" height="4.40" fill="#fff" stroke="#222" stroke-width="1"/>
<rect x="70.30" y="805.80" width="4.40" height="4.40" fill="#fff" stroke="#222" stroke-width="1"/>
<rect x="88.30" y="805.80" width="4.40" height="4.40" fill="#fff" stroke="#222" stroke-width="1"/>
<rect x="97.05" y="805.80" width="4.40" height="4.40" fill="#fff" stroke="#222" stroke-width="1"/>
<rect x="97.80" y="826.40" width="4.40" height="4.40" fill="#fff" stroke="#222" stroke-width="1"/>
<rect x="106.55" y="826.40" width="4.40" height="4.40" fill="#fff" stroke="#222" stroke-width="1"/>
<rect x="125.30" y="826.40" width="4.40" height="4.40" fill="#fff" stroke="#222" stroke-width="1"/>
<rect x="143.55" y="826.40" width="4.40" height="4.40" fill="#fff" stroke="#222" stroke-width="1"/>
<rect x="162.30" y="826.40" width="4.40" height="4.40" fill="#fff" stroke="#222" stroke-width="1"/>
<rect x="180.30" y="826.40" width="4.40" height="4.40" fill="#fff" stroke="#222" stroke-width="1"/>
<rect x="199.05" y="826.40" width="4.40" height="4.40" fill="#fff" stroke="#222" stroke-width="1"/>
<rect x="217.80" y="826.40" width="4.40" height="4.40" fill="#fff" stroke="#222" stroke-width="1"/>
<rect x="237.05" y="826.40" width="4.40" height="4.40" fill="#fff" stroke="#222" stroke-width="1"/>
<circle cx="36.25" cy="741.30" r="2.78" fill="#fff" stroke="#000" stroke-width="1.1"/>
<circle cx="48.25" cy="741.30" r="2.78" fill="#fff" stroke="#000" stroke-width="1.1"/>
<circle cx="60.00" cy="741.30" r="2.78" fill="#fff" stroke="#000" stroke-width="1.1"/>
<circle cx="61.25" cy="785.20" r="2.78" fill="#fff" stroke="#000" stroke-width="1.1"/>
<circle cx="71.25" cy="785.20" r="2.78" fill="#fff" stroke="#000" stroke-width="1.1"/>
<circle cx="83.25" cy="785.20" r="2.78" fill="#fff" stroke="#000" stroke-width="1.1"/>
<circle cx="84.50" cy="828.60" r="2.78" fill="#fff" stroke="#000" stroke-width="1.1"/>
<circle cx="95.75" cy="828.60" r="2.78" fill="#fff" stroke="#000" stroke-width="1.1"/>
<circle cx="97.50" cy="872.50" r="2.78" fill="#fff" stroke="#000" stroke-width="1.1"/>
<circle cx="113.75" cy="872.50" r="2.78" fill="#fff" stroke="#000" stroke-width="1.1"/>
<circle cx="131.75" cy="872.50" r="2.78" fill="#fff" stroke="#000" stroke-width="1.1"/>
<circle cx="150.50" cy="872.50" r="2.78" fill="#fff" stroke="#000" stroke-width="1.1"/>
<circle cx="168.75" cy="872.50" r="2.78" fill="#fff" stroke="#000" stroke-width="1.1"/>
<circle cx="187.00" cy="872.50" r="2.78" fill="#fff" stroke="#000" stroke-width="1.1"/>
<circle cx="207.50" cy="872.50" r="2.78" fill="#fff" stroke="#000" stroke-width="1.1"/>
<circle cx="226.25" cy="872.50" r="2.78" fill="#fff" stroke="#000" stroke-width="1.1"/>
<circle cx="236.75" cy="872.50" r="2.78" fill="#fff" stroke="#000" stroke-width="1.1"/>
<path d="M241.8 744.3 C244 745.2 245.1 747.5 245.1 752 L245.1 801 C245.1 805 245.8 807 247.3 807.7 C245.8 808.4 245.1 810.4 245.1 814.5 L245.1 863 C245.1 867.5 244.2 869.8 242.6 871.2" fill="none" stroke="#000" stroke-width="1.15"/>
<path d="M237.4 832.2 C239.3 832.8 240.1 834.3 240.1 837.5 L240.1 845.5 C240.1 848.6 240.7 850.2 242.2 850.7 C240.7 851.2 240.1 852.8 240.1 856 L240.1 864.5 C240.1 867.8 239.3 869.5 237.2 870.2" fill="none" stroke="#000" stroke-width="1.15"/>
<text x="172" y="789.3" font-size="12.3"><tspan font-style="italic">P</tspan><tspan x="178.93"> </tspan>= .034</text>
<text x="170" y="855" font-size="12.3"><tspan font-style="italic">P</tspan><tspan x="176.93"> </tspan>= .554</text>
<text x="276.3" y="758.4" font-size="12.3">HSC donor</text>
<text x="349" y="758.4" font-size="12.3">FC donor</text>
<text x="411.8" y="758.4" font-size="12.3">MHC-disparity</text>
<text x="507.9" y="758.4" font-size="12.3">n</text>
<line x1="265.6" y1="761.5" x2="520" y2="761.5" stroke="#000" stroke-width="1.15"/>
<line x1="258.3" y1="779" x2="277" y2="779" stroke="#000" stroke-width="1.15"/>
<circle cx="267.50" cy="779.00" r="3.58" fill="#000"/>
<text x="283" y="781.8" font-size="12.3">B10.BR</text>
<text x="342.3" y="781.8" font-size="12.3">B10.A(4R)</text>
<text x="409.6" y="781.8" font-size="12.3">Class I D, L</text>
<text x="510.6" y="781.8" font-size="12.3" text-anchor="middle">4</text>
<line x1="258.3" y1="794" x2="277" y2="794" stroke="#666" stroke-width="1.15"/>
<rect x="265.30" y="791.80" width="4.40" height="4.40" fill="#fff" stroke="#666" stroke-width="1"/>
<text x="283" y="796.8" font-size="12.3">B10.BR</text>
<text x="343.7" y="796.8" font-size="12.3">B10.MBR</text>
<text x="409.6" y="796.8" font-size="12.3">Class I K, D, L</text>
<text x="510.6" y="796.8" font-size="12.3" text-anchor="middle">8</text>
<line x1="260" y1="809.4" x2="277.8" y2="809.4" stroke="#000" stroke-width="1.15"/>
<circle cx="268.90" cy="809.40" r="2.78" fill="#fff" stroke="#000" stroke-width="1.1"/>
<text x="283" y="813.4" font-size="12.3">B10.AKM</text>
<text x="342.3" y="813.4" font-size="12.3">B10.MBR</text>
<text x="409.6" y="813.4" font-size="12.3">Class I K</text>
<text x="509.2" y="813.4" font-size="12.3" text-anchor="middle">4</text>
</svg>
</body></html>
